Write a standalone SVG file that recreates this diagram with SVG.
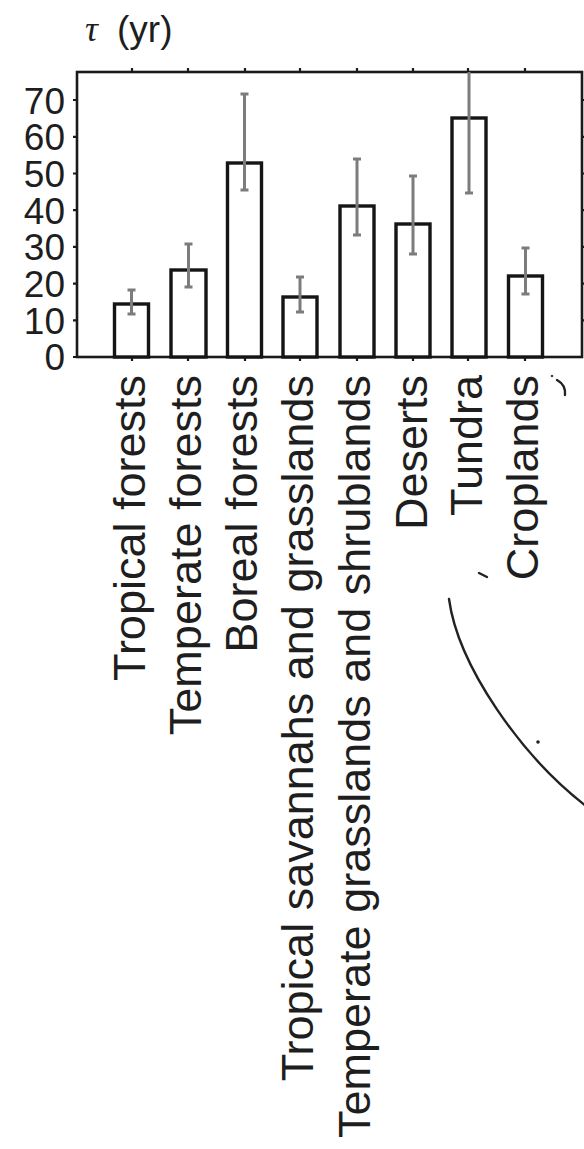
<svg xmlns="http://www.w3.org/2000/svg" width="584" height="1149" viewBox="0 0 584 1149">
<style>
.frame{fill:none;stroke:#1a1a1a;stroke-width:2.6}
.tick{stroke:#1a1a1a;stroke-width:2.2}
.bar{fill:#fff;stroke:#151515;stroke-width:3.4}
.err{stroke:#7c7c7c;stroke-width:3;fill:none}
.num{font-family:"Liberation Sans",Arial,sans-serif;font-size:37px;fill:#1e1e1e;text-anchor:end}
.cat{font-family:"Liberation Sans",Arial,sans-serif;font-size:45px;fill:#1e1e1e;text-anchor:end}
.mark{fill:none;stroke:#222;stroke-width:2.4;stroke-linecap:round}
</style>
<rect width="584" height="1149" fill="#fff"/>
<g id="title">
<text x="85" y="41" font-family="'Liberation Serif','Times New Roman',serif" font-style="italic" font-size="36" fill="#1e1e1e">τ</text>
<text x="117" y="42" font-family="'Liberation Sans',Arial,sans-serif" font-size="37" fill="#1e1e1e">(yr)</text>
</g>
<g id="axes">
<rect class="frame" x="77" y="72" width="505" height="285"/>
<path class="tick" d="M73,357H77M73,320.3H77M73,283.6H77M73,246.9H77M73,210.2H77M73,173.5H77M73,136.8H77M73,100H77"/>
<path class="tick" d="M582,320.3H586M582,283.6H586M582,246.9H586M582,210.2H586M582,173.5H586M582,136.8H586M582,100H586"/>
<path class="tick" d="M132,72V68M188,72V68M245,72V68M300,72V68M357,72V68M413,72V68M468,72V68M525,72V68"/>
<path class="tick" d="M132,357V361M188,357V361M245,357V361M300,357V361M357,357V361M413,357V361M468,357V361M525,357V361"/>
<text class="num" x="65" y="370">0</text>
<text class="num" x="65" y="333.5">10</text>
<text class="num" x="65" y="297">20</text>
<text class="num" x="65" y="260">30</text>
<text class="num" x="65" y="223.5">40</text>
<text class="num" x="65" y="187">50</text>
<text class="num" x="65" y="150">60</text>
<text class="num" x="65" y="113.5">70</text>
</g>
<g id="bars">
<rect class="bar" x="114.5" y="304" width="34" height="53"/>
<rect class="bar" x="171" y="270" width="35" height="87"/>
<rect class="bar" x="227.5" y="163" width="34" height="194"/>
<rect class="bar" x="283" y="297" width="34" height="60"/>
<rect class="bar" x="340" y="206" width="34" height="151"/>
<rect class="bar" x="396" y="224" width="34" height="133"/>
<rect class="bar" x="452" y="118" width="34" height="239"/>
<rect class="bar" x="508.5" y="276" width="34" height="81"/>
</g>
<g id="errorbars">
<path class="err" d="M131.5,290V314M127.5,290H135.5M127.5,314H135.5"/>
<path class="err" d="M188.5,244V287M184.5,244H192.5M184.5,287H192.5"/>
<path class="err" d="M244.5,94V190M240.5,94H248.5M240.5,190H248.5"/>
<path class="err" d="M300,277V312M296,277H304M296,312H304"/>
<path class="err" d="M357,159V235M353,159H361M353,235H361"/>
<path class="err" d="M413,176V254M409,176H417M409,254H417"/>
<path class="err" d="M469,72V193M465,193H473"/>
<path class="err" d="M525.5,248V294M521.5,248H529.5M521.5,294H529.5"/>
</g>
<g id="labels">
<text class="cat" transform="translate(145,375) rotate(-90)">Tropical forests</text>
<text class="cat" transform="translate(201,375) rotate(-90)">Temperate forests</text>
<text class="cat" transform="translate(257,375) rotate(-90)">Boreal forests</text>
<text class="cat" transform="translate(313,375) rotate(-90)">Tropical savannahs and grasslands</text>
<text class="cat" transform="translate(370,375) rotate(-90)">Temperate grasslands and shrublands</text>
<text class="cat" transform="translate(427,375) rotate(-90)">Deserts</text>
<text class="cat" transform="translate(482,375) rotate(-90)">Tundra</text>
<text class="cat" transform="translate(538,375) rotate(-90)">Croplands</text>
</g>
<g id="fragments">
<path class="mark" d="M449,599C458,665 520,755 586,806"/>
<path class="mark" d="M479,573L487,577"/>
<circle cx="538" cy="742" r="1.8" fill="#222"/>
<circle cx="552" cy="376" r="1.3" fill="#444"/>
<path class="mark" d="M557,380Q566,385 565,395"/>
</g>
</svg>
